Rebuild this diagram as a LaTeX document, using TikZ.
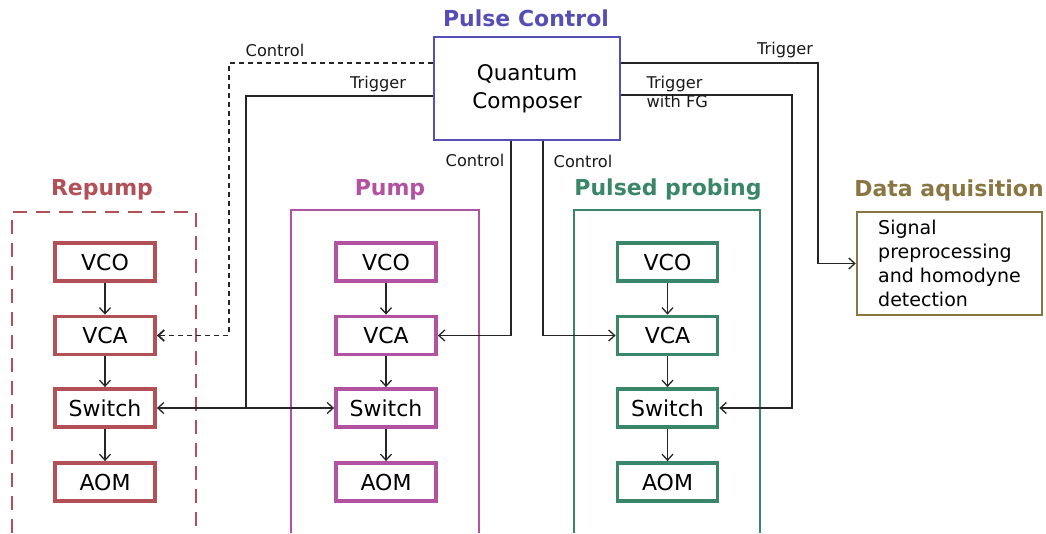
\documentclass[tikz,border=0pt]{standalone}
\usepackage{fontspec}
\setmainfont{DejaVu Sans}
\usetikzlibrary{arrows.meta}
\definecolor{pcblue}{RGB}{85,78,180}
\definecolor{repc}{RGB}{178,80,88}
\definecolor{pumpc}{RGB}{178,82,160}
\definecolor{probc}{RGB}{58,134,104}
\definecolor{datac}{RGB}{138,118,66}
\tikzset{
  arr/.style={-{Straight Barb[length=6pt,width=11pt]}, line width=1.3pt, black!85},
  darr/.style={{Straight Barb[length=6pt,width=11pt]}-{Straight Barb[length=6pt,width=11pt]}, line width=1.3pt, black!85},
  conn/.style={line width=1.3pt, black!85},
  inbox/.style={draw=#1, line width=3.8pt, minimum width=100pt, minimum height=38pt, inner sep=0pt, font=\fontsize{22}{26}\selectfont, fill=white},
  title/.style={text=#1, font=\bfseries\fontsize{22}{26}\selectfont},
  lbl/.style={font=\fontsize{16.2}{19}\selectfont, black!90},
}
\begin{document}
\begin{tikzpicture}[x=1pt,y=-1pt]
\useasboundingbox (0,0) rectangle (1046,533);
% frames
\draw[repc, line width=2.2pt, dash pattern=on 14pt off 9pt] (12,533) -- (12,212) -- (196,212) -- (196,533);
\draw[pumpc, line width=2pt] (291,533) -- (291,210) -- (479,210) -- (479,533);
\draw[probc, line width=2pt] (574,533) -- (574,210) -- (760,210) -- (760,533);
% titles
\node[title=pcblue] (tpc) at (526,18) {Pulse Control};
\node[title=repc] (trep) at (102,190) {Repump};
\node[title=pumpc] (tpump) at (390,190) {Pump};
\node[title=probc] (tprob) at (668,190) {Pulsed probing};
\node[title=datac] (tdata) at (949,190) {Data aquisition};
% quantum composer
\node[draw=pcblue, line width=2.5pt, minimum width=186pt, minimum height=103pt, align=center, font=\fontsize{21.5}{28}\selectfont] (qc) at (527,88.5) {Quantum\\Composer};
% data box
\node[draw=datac, line width=2.5pt, minimum width=185pt, minimum height=103pt, align=left, font=\fontsize{19}{24}\selectfont] (data) at (949.5,263.5) {Signal\\preprocessing\\and homodyne\\detection};
% repump chain
\node[inbox=repc] (rvco) at (105,262) {VCO};
\node[inbox=repc] (rvca) at (105,335.5) {VCA};
\node[inbox=repc] (rsw) at (105,408) {Switch};
\node[inbox=repc] (raom) at (105,482) {AOM};
% pump chain
\node[inbox=pumpc] (pvco) at (386,262) {VCO};
\node[inbox=pumpc] (pvca) at (386,335.5) {VCA};
\node[inbox=pumpc] (psw) at (386,408) {Switch};
\node[inbox=pumpc] (paom) at (386,482) {AOM};
% probe chain
\node[inbox=probc] (bvco) at (667.5,262) {VCO};
\node[inbox=probc] (bvca) at (667.5,335.5) {VCA};
\node[inbox=probc] (bsw) at (667.5,408) {Switch};
\node[inbox=probc] (baom) at (667.5,482) {AOM};
% chain arrows
\foreach \c in {r,p,b}{
  \draw[arr] (\c vco) -- (\c vca);
  \draw[arr] (\c vca) -- (\c sw);
  \draw[arr] (\c sw) -- (\c aom);
}
% connector corner coordinates
\coordinate (rctl) at (229,63);
\coordinate (rtrg) at (246,96);
\coordinate (pctl) at (511,0);
\coordinate (bctl) at (543,0);
\coordinate (fgtrg) at (792,95);
\coordinate (dtrg) at (818,63);
% connectors
\draw[arr, dash pattern=on 5pt off 4pt, line width=1.8pt] (qc.west |- rctl) -- (rctl) |- (rvca.east);
\draw[conn] (qc.west |- rtrg) -- (rtrg) -- (rtrg |- rsw.east);
\draw[darr] (rsw.east) -- (psw.west);
\draw[arr] (qc.south -| pctl) |- (pvca.east);
\draw[arr] (qc.south -| bctl) |- (bvca.west);
\draw[arr] (qc.east |- fgtrg) -- (fgtrg) |- (bsw.east);
\draw[arr] (qc.east |- dtrg) -- (dtrg) |- (data.west);
% labels
\node[lbl] (l1) at (275,50) {Control};
\node[lbl] (l2) at (378,84) {Trigger};
\node[lbl] (l3) at (475,160) {Control};
\node[lbl] (l4) at (583,161) {Control};
\node[lbl] (l5) at (785,50) {Trigger};
\node[lbl, align=left, anchor=west] (l6) at (643,92) {Trigger\\with FG};
\end{tikzpicture}
\end{document}
